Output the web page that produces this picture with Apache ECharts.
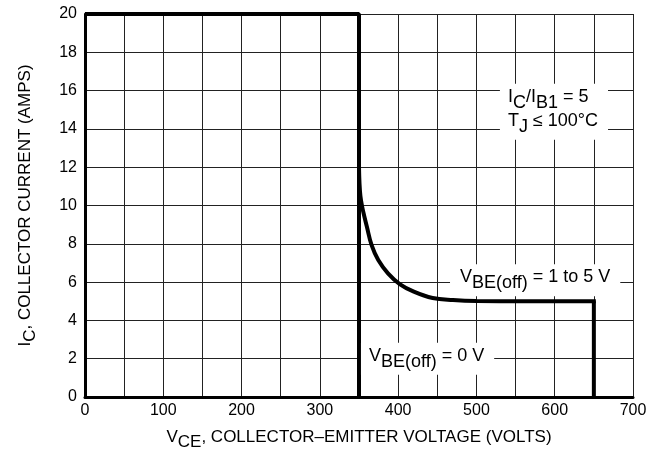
<!DOCTYPE html>
<html><head><meta charset="utf-8">
<script src="https://cdn.jsdelivr.net/npm/echarts@6/dist/echarts.min.js"></script>
<style>html,body{margin:0;padding:0;background:#fff}#c{width:662px;height:459px}</style>
</head><body><div id="c"></div>
<script>
// Data
const xTickLabels = [0, 100, 200, 300, 400, 500, 600, 700];
const yTickLabels = [0, 2, 4, 6, 8, 10, 12, 14, 16, 18, 20];
const vbe0X = [0, 350, 350];
const vbe0Y = [20, 20, 0];
const vbe15CurveX = [350, 350.6, 351.8, 354, 357, 360, 366, 374.6, 387, 402, 420, 444, 470, 500, 560, 650];
const vbe15CurveY = [12, 11.2, 10.5, 9.94, 9.4, 8.9, 7.94, 7.15, 6.46, 5.9, 5.5, 5.17, 5.06, 5.01, 5.0, 5.0];
const vbe15DropX = [650, 650];
const vbe15DropY = [5, 0];
const annotations = [
  {x: 530, y: 14.9, align: 'left', text: '{b|I}{s|C}{b|/I}{s|B1}{b| = 5}\n{b|T}{s|J}{b| ≤ 100°C}'},
  {x: 575, y: 6.1, align: 'center', text: '{b|V}{s|BE(off)}{b| = 1 to 5 V}'},
  {x: 352.5, y: 2.0, align: 'left', text: '{b|V}{s|BE(off)}{b| = 0 V}'}
];

const FONT = '"Liberation Sans", Arial, sans-serif';
const zip = (xs, ys) => xs.map((v, i) => [v, ys[i]]);
const rich = {
  b: {fontFamily: FONT, fontSize: 18, color: '#000', lineHeight: 24, verticalAlign: 'top'},
  s: {fontFamily: FONT, fontSize: 18, color: '#000', lineHeight: 24, verticalAlign: 'top', padding: [6, 0, 0, 0]}
};
const nameRich = {
  b: {fontFamily: FONT, fontSize: 17, color: '#000', lineHeight: 18, verticalAlign: 'top'},
  s: {fontFamily: FONT, fontSize: 17, color: '#000', lineHeight: 18, verticalAlign: 'top', padding: [5, 0, 0, 0]}
};

const chart = echarts.init(document.getElementById('c'), null, {renderer: 'canvas'});
chart.setOption({
  animation: false,
  backgroundColor: '#fff',
  grid: {left: 85, right: 29, top: 14, bottom: 62, containLabel: false},
  xAxis: {
    type: 'value', min: 0, max: 700, interval: 50,
    axisLine: {show: true, onZero: false, lineStyle: {color: '#000', width: 3}},
    axisTick: {show: false},
    splitLine: {show: true, lineStyle: {color: '#222', width: 1}},
    axisLabel: {
      color: '#000', fontFamily: FONT, fontSize: 16, margin: 6,
      formatter: v => xTickLabels.includes(v) ? String(v) : ''
    },
    name: '{b|V}{s|CE}{b|, COLLECTOR–EMITTER VOLTAGE (VOLTS)}',
    nameLocation: 'middle', nameGap: 32,
    nameTextStyle: {rich: nameRich}
  },
  yAxis: {
    type: 'value', min: 0, max: 20, interval: 2,
    axisLine: {show: true, onZero: false, lineStyle: {color: '#000', width: 3}},
    axisTick: {show: false},
    splitLine: {show: true, lineStyle: {color: '#222', width: 1}},
    axisLabel: {
      color: '#000', fontFamily: FONT, fontSize: 16, margin: 8,
      formatter: v => yTickLabels.includes(v) ? String(v) : ''
    },
    name: '{b|I}{s|C}{b|, COLLECTOR CURRENT (AMPS)}',
    nameLocation: 'middle', nameGap: 50, nameRotate: 90,
    nameTextStyle: {rich: nameRich}
  },
  series: [
    {type: 'line', data: zip(vbe0X, vbe0Y), symbol: 'none', lineStyle: {color: '#000', width: 4}, z: 5},
    {type: 'line', data: zip(vbe15CurveX, vbe15CurveY), symbol: 'none', smooth: 0.4,
     lineStyle: {color: '#000', width: 4, cap: 'square'}, z: 5},
    {type: 'line', data: zip(vbe15DropX, vbe15DropY), symbol: 'none',
     lineStyle: {color: '#000', width: 4}, z: 5}
  ]
});

function placeAnnotations() {
  chart.setOption({
    graphic: annotations.map(a => {
      const p = chart.convertToPixel({gridIndex: 0}, [a.x, a.y]);
      return {
        type: 'text', x: p[0], y: p[1], z: 100,
        style: {
          text: a.text, rich: rich, align: a.align, verticalAlign: 'middle',
          backgroundColor: '#fff', padding: a.align === 'left' ? [4, 10, 4, 8] : [4, 10, 4, 10]
        }
      };
    })
  });
}
placeAnnotations();
</script>
</body></html>
